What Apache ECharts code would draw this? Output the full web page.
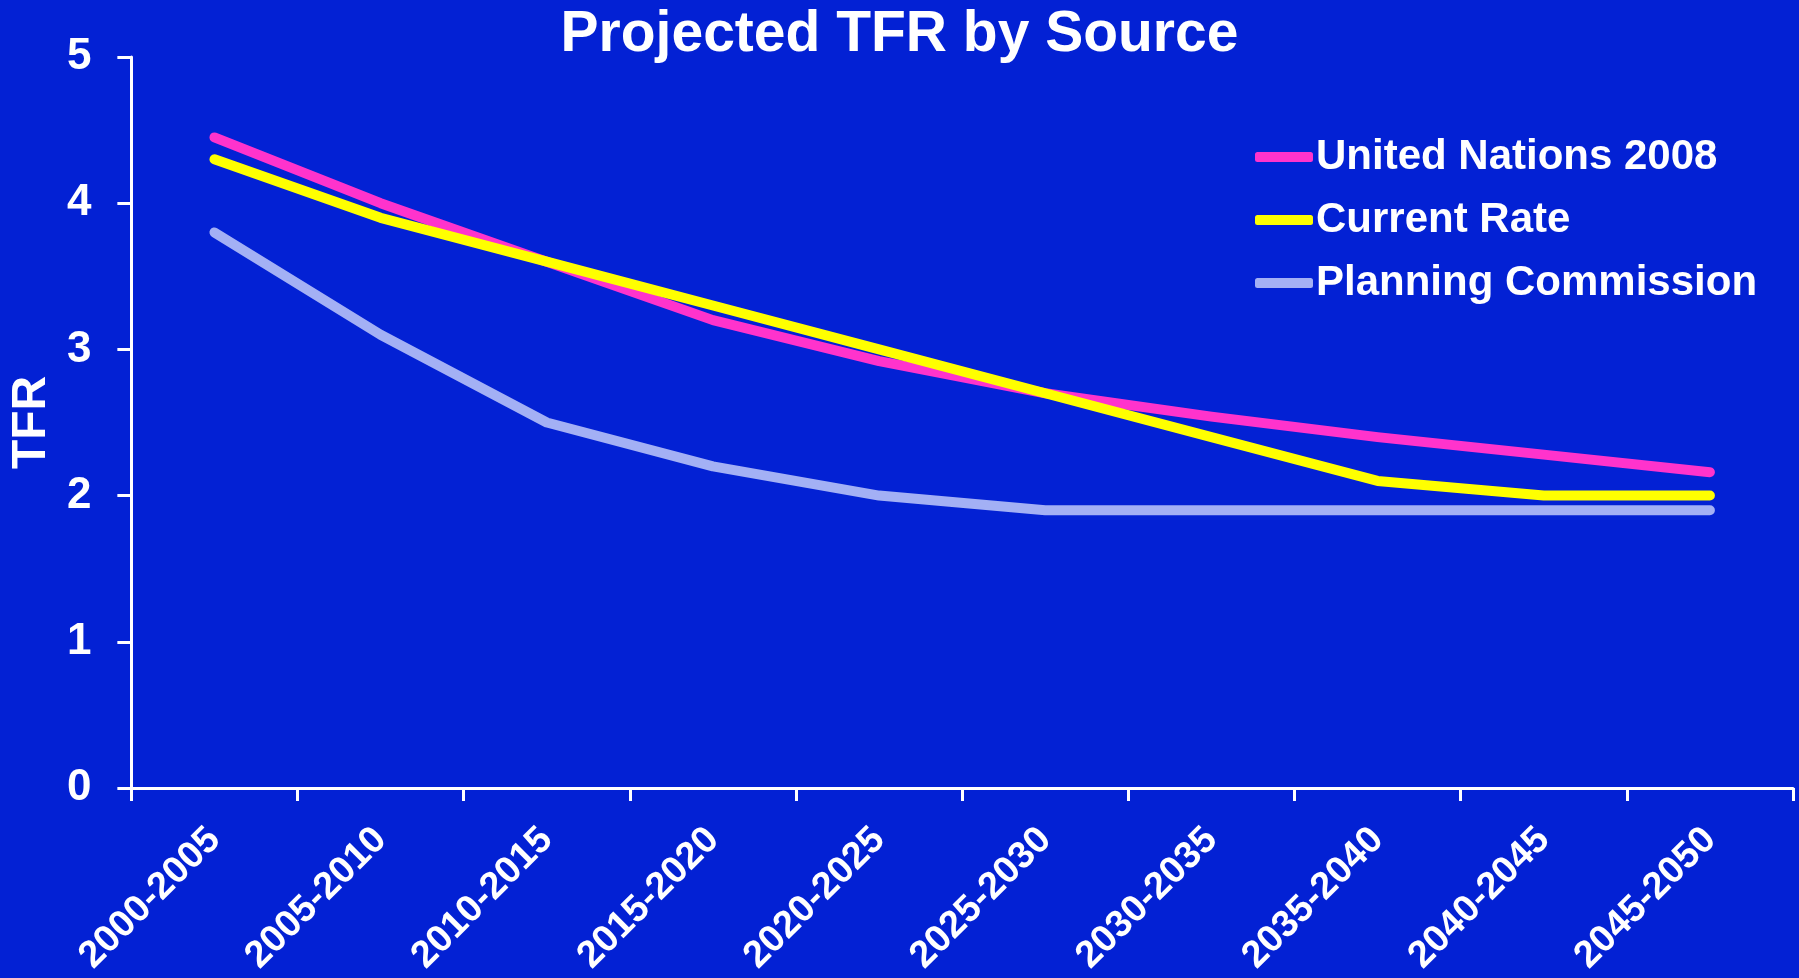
<!DOCTYPE html>
<html>
<head>
<meta charset="utf-8">
<script src="https://cdn.jsdelivr.net/npm/echarts@6/dist/echarts.min.js"></script>
<style>
  html, body { margin: 0; padding: 0; background: #0321d4; }
  #chart { width: 1799px; height: 978px; }
</style>
</head>
<body>
<div id="chart"></div>
<script>
const categories = ['2000-2005','2005-2010','2010-2015','2015-2020','2020-2025','2025-2030','2030-2035','2035-2040','2040-2045','2045-2050'];
const unitedNations2008 = [4.45, 4.0, 3.6, 3.2, 2.92, 2.7, 2.54, 2.4, 2.28, 2.16];
const currentRate = [4.3, 3.9, 3.6, 3.3, 3.0, 2.7, 2.4, 2.1, 2.0, 2.0];
const planningCommission = [3.8, 3.1, 2.5, 2.2, 2.0, 1.9, 1.9, 1.9, 1.9, 1.9];
const yTicks = { min: 0, max: 5, interval: 1 };

const FONT = '"Liberation Sans", Arial, sans-serif';
const chart = echarts.init(document.getElementById('chart'), null, { renderer: 'canvas' });

function lineSeries(name, data, color) {
  return {
    name: name,
    type: 'line',
    data: data,
    symbol: 'none',
    showSymbol: false,
    lineStyle: { color: color, width: 10, cap: 'round', join: 'round' },
    itemStyle: { color: color },
    emphasis: { disabled: true },
    animation: false
  };
}

chart.setOption({
  backgroundColor: '#0321d4',
  animation: false,
  title: {
    text: 'Projected TFR by Source',
    left: 'center',
    top: 2,
    textStyle: { color: '#ffffff', fontSize: 57, fontWeight: 'bold', fontFamily: FONT }
  },
  legend: {
    orient: 'vertical',
    left: 1250,
    top: 131,
    icon: 'roundRect',
    itemWidth: 58,
    itemHeight: 10,
    itemGap: 21,
    textStyle: { color: '#ffffff', fontSize: 42, fontWeight: 'bold', fontFamily: FONT, padding: [0, 0, 0, -2] },
    data: ['United Nations 2008', 'Current Rate', 'Planning Commission']
  },
  grid: { left: 130, right: 6, top: 57, bottom: 186, containLabel: false },
  xAxis: {
    type: 'category',
    data: categories,
    boundaryGap: true,
    axisLine: { lineStyle: { color: '#ffffff', width: 3 } },
    axisTick: { show: true, length: 13, inside: false, alignWithLabel: false, interval: 0, lineStyle: { color: '#ffffff', width: 3 } },
    axisLabel: { interval: 0, rotate: 45, margin: 46, color: '#ffffff', fontSize: 38, fontWeight: 'bold', fontFamily: FONT },
    splitLine: { show: false }
  },
  yAxis: {
    type: 'value',
    min: yTicks.min,
    max: yTicks.max,
    interval: yTicks.interval,
    name: 'TFR',
    nameLocation: 'middle',
    nameGap: 61,
    nameRotate: 90,
    nameTextStyle: { color: '#ffffff', fontSize: 48, fontWeight: 'bold', fontFamily: FONT },
    axisLine: { show: true, lineStyle: { color: '#ffffff', width: 3 } },
    axisTick: { show: true, length: 14, inside: false, lineStyle: { color: '#ffffff', width: 3 } },
    axisLabel: { margin: 40, color: '#ffffff', fontSize: 44, fontWeight: 'bold', fontFamily: FONT },
    splitLine: { show: false }
  },
  series: [
    lineSeries('United Nations 2008', unitedNations2008, '#ff33cc'),
    lineSeries('Current Rate', currentRate, '#ffff00'),
    lineSeries('Planning Commission', planningCommission, '#a3b0f5')
  ]
});
</script>
</body>
</html>
